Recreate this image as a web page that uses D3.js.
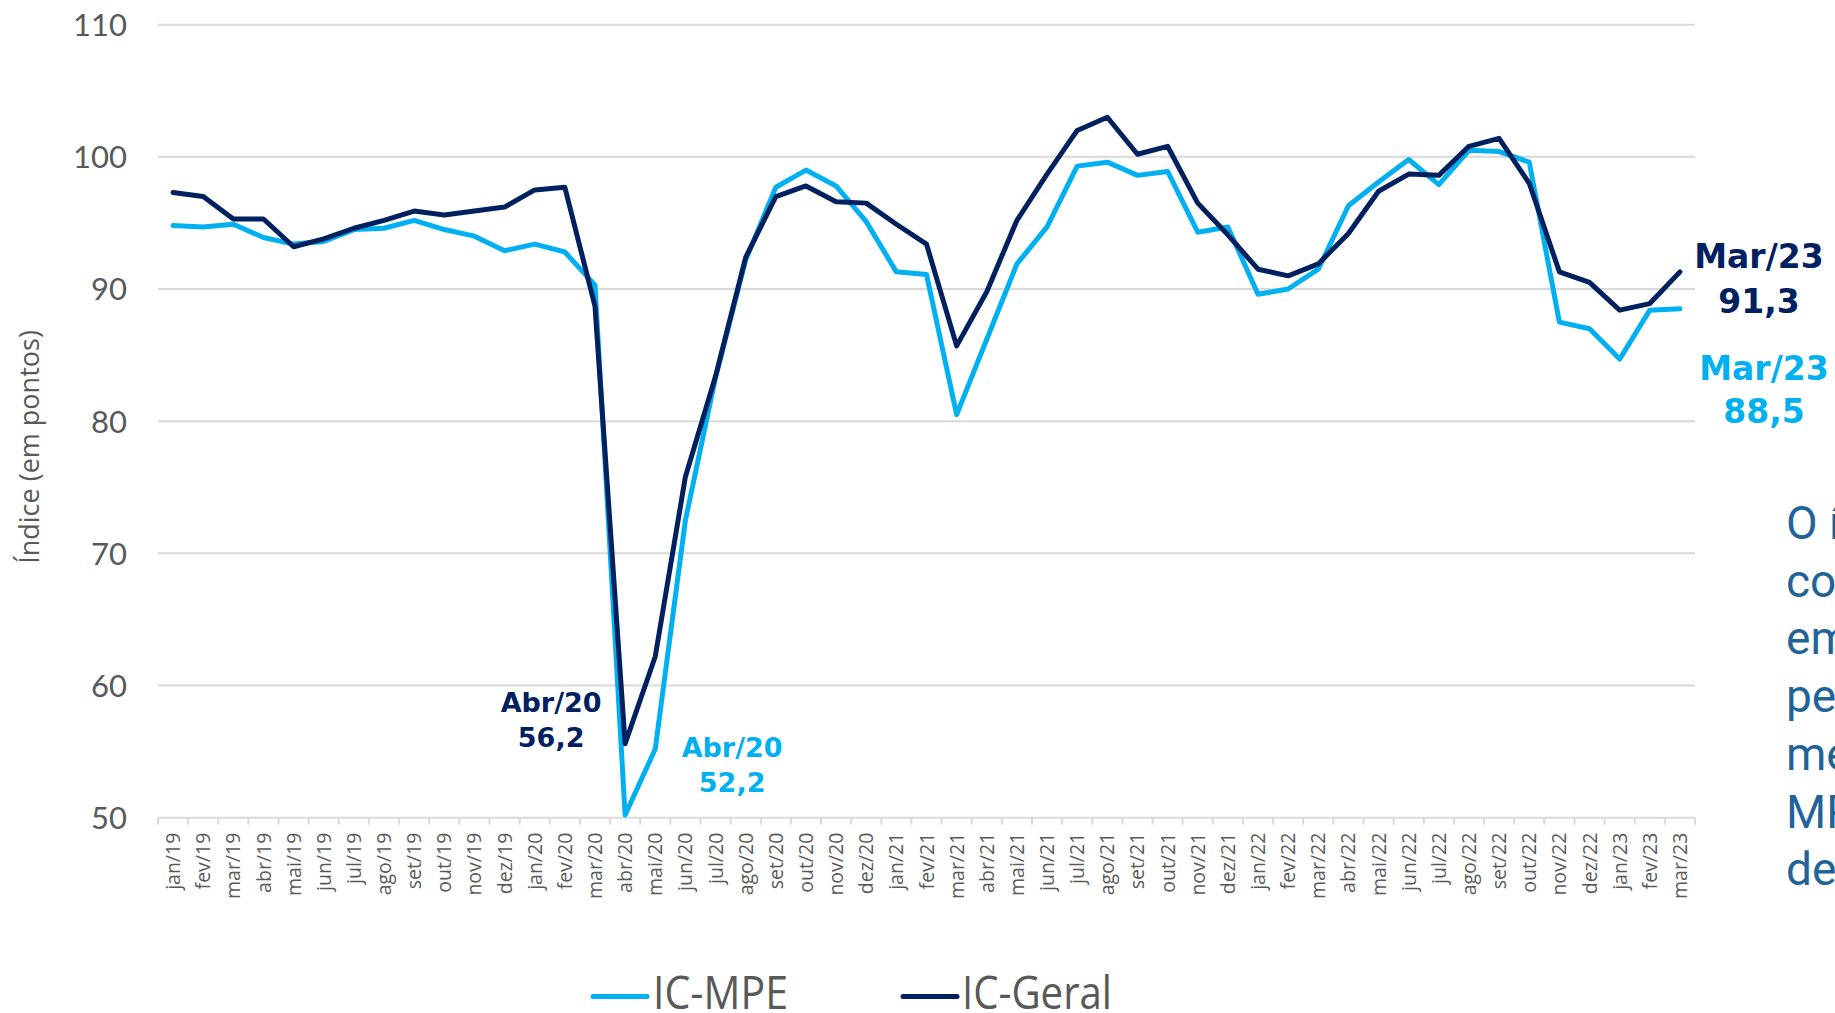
<!DOCTYPE html>
<html><head><meta charset="utf-8">
<script src="https://cdn.jsdelivr.net/npm/d3@7"></script>
<style>html,body{margin:0;padding:0;background:#fff;overflow:hidden}</style>
</head><body><svg id="c" width="1835" height="1013"></svg>
<script>
const months = ["jan/19","fev/19","mar/19","abr/19","mai/19","jun/19","jul/19","ago/19","set/19","out/19","nov/19","dez/19",
"jan/20","fev/20","mar/20","abr/20","mai/20","jun/20","jul/20","ago/20","set/20","out/20","nov/20","dez/20",
"jan/21","fev/21","mar/21","abr/21","mai/21","jun/21","jul/21","ago/21","set/21","out/21","nov/21","dez/21",
"jan/22","fev/22","mar/22","abr/22","mai/22","jun/22","jul/22","ago/22","set/22","out/22","nov/22","dez/22",
"jan/23","fev/23","mar/23"];
const icMPE = [94.8,94.7,94.9,93.9,93.4,93.6,94.5,94.6,95.2,94.5,94.0,92.9,
93.4,92.8,90.3,50.2,55.2,72.5,83.3,92.2,97.7,99.0,97.8,95.1,
91.3,91.1,80.5,86.2,91.9,94.7,99.3,99.6,98.6,98.9,94.3,94.7,
89.6,90.0,91.5,96.3,98.1,99.8,97.9,100.5,100.4,99.6,87.5,87.0,
84.7,88.4,88.5];
const icGeral = [97.3,97.0,95.3,95.3,93.2,93.8,94.6,95.2,95.9,95.6,95.9,96.2,
97.5,97.7,88.7,55.6,62.2,75.8,83.4,92.4,97.0,97.8,96.6,96.5,
94.9,93.4,85.7,89.8,95.2,98.7,102.0,103.0,100.2,100.8,96.5,94.1,
91.5,91.0,91.9,94.2,97.4,98.7,98.6,100.8,101.4,98.0,91.3,90.5,
88.4,88.9,91.3];
const yTicks = [50,60,70,80,90,100,110];
const seriesNames = ["IC-MPE","IC-Geral"];
const seriesColors = ["#00B0F0","#002060"];
const yTitle = "Índice (em pontos)";
const annAbr = {month:"abr/20", geral:["Abr/20","56,2"], mpe:["Abr/20","52,2"]};
const annMar = {month:"mar/23", geral:["Mar/23","91,3"], mpe:["Mar/23","88,5"]};
const sideText = ["O índice de","confiança das","empresas de","pequeno porte","melhorou no","MPE em","dezembro"];

const svg = d3.select("#c");
svg.append("rect").attr("width",1835).attr("height",1013).attr("fill","#fff");
const L = 158, R = 1695, T = 24.7, B = 817.7;
const x = d3.scaleBand().domain(months).range([L,R]).padding(0);
const y = d3.scaleLinear().domain([50,110]).range([B,T]);
const cx = d => x(d) + x.bandwidth()/2;
const grey = "#595959";

// gridlines
svg.append("g").selectAll("line").data(yTicks.filter(v=>v>50)).join("line")
  .attr("x1",L).attr("x2",R).attr("y1",d=>y(d)).attr("y2",d=>y(d))
  .attr("stroke","#d9d9d9").attr("stroke-width",2);

// y axis labels
const ya = svg.append("g").attr("transform",`translate(${L},0)`)
  .call(d3.axisLeft(y).tickValues(yTicks).tickSize(0).tickPadding(31));
ya.select(".domain").remove();
ya.selectAll("text").attr("font-family","Lato, 'Open Sans', sans-serif").attr("font-size",31)
  .attr("fill",grey).attr("dy","0.35em");

// x axis base line and tick marks at band edges
svg.append("line").attr("x1",L).attr("x2",R).attr("y1",B).attr("y2",B)
  .attr("stroke","#d9d9d9").attr("stroke-width",2);
const edges = months.map(m=>x(m)).concat([R]);
svg.append("g").selectAll("line").data(edges).join("line")
  .attr("x1",d=>d).attr("x2",d=>d).attr("y1",B).attr("y2",B+7)
  .attr("stroke","#d9d9d9").attr("stroke-width",2);
const xa = svg.append("g").attr("transform",`translate(0,${B})`)
  .call(d3.axisBottom(x).tickSize(0).tickPadding(0));
xa.select(".domain").remove();
xa.selectAll("text").attr("font-family","'Open Sans', sans-serif").attr("font-size",19.5)
  .attr("fill",grey).attr("text-anchor","end")
  .attr("transform","rotate(-90)").attr("x",-15).attr("y",0).attr("dy","0.36em");

// y title
svg.append("text").attr("transform","translate(30,447) rotate(-90)")
  .attr("text-anchor","middle").attr("font-family","'Open Sans', sans-serif")
  .attr("font-size",27).attr("fill",grey).attr("dy","0.35em").text(yTitle);

// lines
const line = d3.line().x((d,i)=>cx(months[i])).y(d=>y(d));
[icMPE, icGeral].forEach((s,k)=>{
  svg.append("path").datum(s).attr("d",line).attr("fill","none")
    .attr("stroke",seriesColors[k]).attr("stroke-width",5)
    .attr("stroke-linejoin","round").attr("stroke-linecap","round");
});

// annotations
function ann(lines, xc, yb, color, size, gap){
  const t = svg.append("text").attr("text-anchor","middle").attr("font-family","'DejaVu Sans', sans-serif")
    .attr("font-weight","bold").attr("font-size",size).attr("fill",color);
  lines.forEach((s,i)=>t.append("tspan").attr("x",xc).attr("y",yb+i*gap).text(s));
}
ann(annAbr.geral, cx(annAbr.month)-74, 711.7, seriesColors[1], 27, 35);
ann(annAbr.mpe, cx(annAbr.month)+107, 756.7, seriesColors[0], 27, 35);
ann(annMar.geral, cx(annMar.month)+79, 268.3, seriesColors[1], 33, 45);
ann(annMar.mpe, cx(annMar.month)+84, 380, seriesColors[0], 33, 43);

// side text (cut by the page edge, as in the source)
const st = svg.append("text").attr("font-family","Roboto, 'Liberation Sans', sans-serif")
  .attr("font-size",46).attr("fill","#1F6499");
sideText.forEach((s,i)=>st.append("tspan").attr("x",1786).attr("y",539+i*57.7).text(s));

// legend
const lg = svg.append("g");
const legX = [[593,647,653,135],[903,957,962,150]];
seriesNames.forEach((n,i)=>{
  lg.append("line").attr("x1",legX[i][0]).attr("x2",legX[i][1]).attr("y1",996.5).attr("y2",996.5)
    .attr("stroke",seriesColors[i]).attr("stroke-width",5).attr("stroke-linecap","round");
  lg.append("text").attr("x",legX[i][2]).attr("y",1009).attr("font-family","'Open Sans', sans-serif")
    .attr("font-size",45).attr("fill",grey).attr("textLength",legX[i][3])
    .attr("lengthAdjust","spacingAndGlyphs").text(n);
});
</script></body></html>
